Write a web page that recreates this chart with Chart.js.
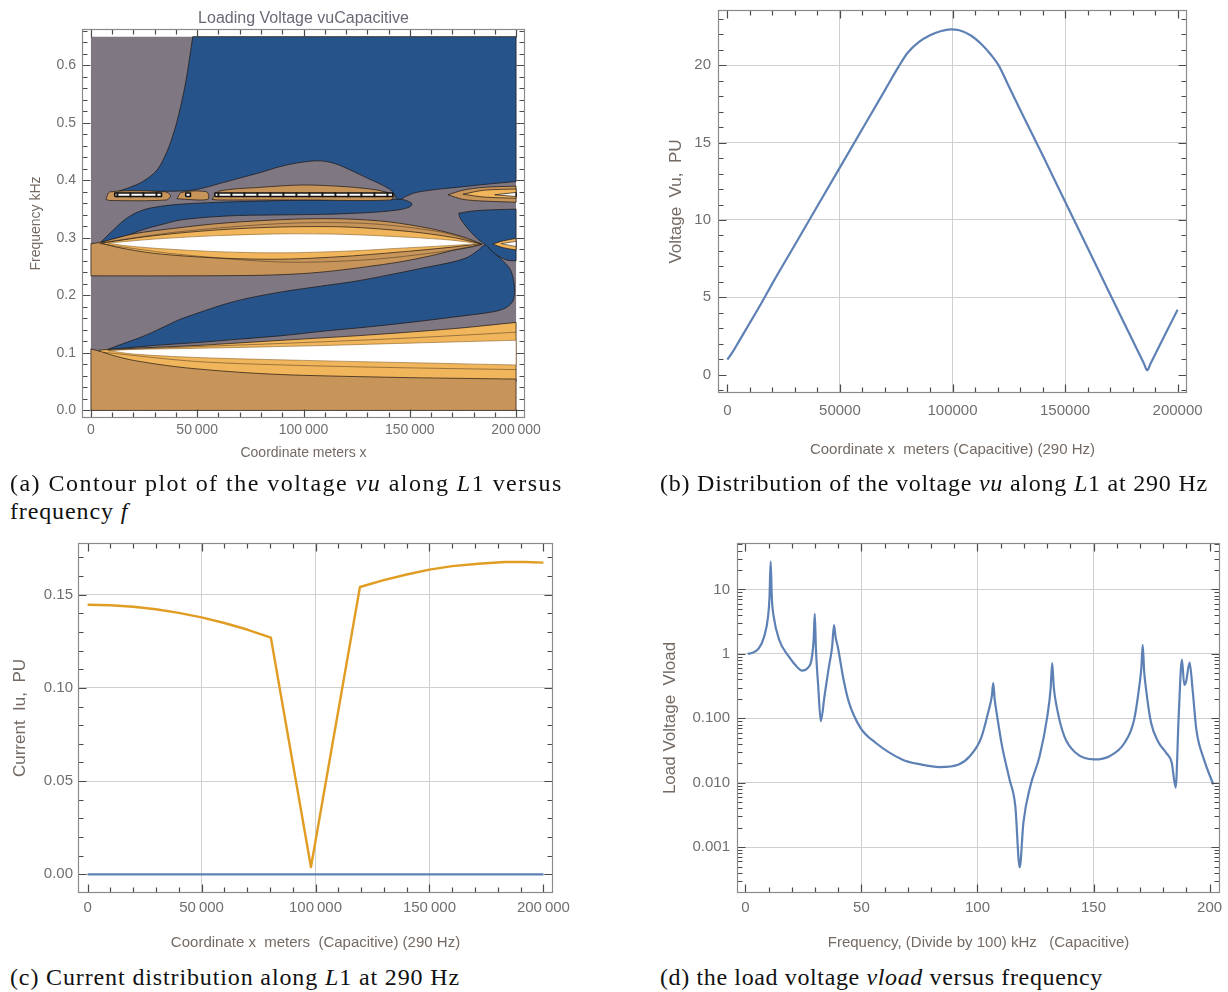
<!DOCTYPE html>
<html>
<head>
<meta charset="utf-8">
<script src="https://cdn.jsdelivr.net/npm/chart.js@4.4.1/dist/chart.umd.min.js"></script>
<style>
  html, body { margin: 0; padding: 0; background: #fff; }
  body { width: 1228px; height: 992px; position: relative; overflow: hidden; }
  canvas { position: absolute; }
  .cap { position: absolute; font-family: "Liberation Serif", "Times New Roman", serif; font-size: 24px;
         color: #111; white-space: nowrap; line-height: 28px; }
</style>
</head>
<body>
<canvas id="ca" width="560" height="470" style="left:0;top:0"></canvas>
<canvas id="cb" width="588" height="470" style="left:640px;top:0"></canvas>
<canvas id="cc" width="600" height="430" style="left:0;top:530px"></canvas>
<canvas id="cd" width="588" height="430" style="left:640px;top:530px"></canvas>

<div class="cap" data-w="553" style="left:10px;top:469px">(a) Contour plot of the voltage <i>vu</i> along <i>L</i>1 versus</div>
<div class="cap" id="capA2" style="left:10px;top:497px">frequency <i>f</i></div>
<div class="cap" data-w="548" style="left:660px;top:469px">(b) Distribution of the voltage <i>vu</i> along <i>L</i>1 at 290 Hz</div>
<div class="cap" id="capC" data-w="450" style="left:10px;top:963px">(c) Current distribution along <i>L</i>1 at 290 Hz</div>
<div class="cap" data-w="443" style="left:660px;top:963px">(d) the load voltage <i>vload</i> versus frequency</div>

<script>
// ---- (a) contour regions, [x m, f kHz] outlines ----
const contourGray = [[0, 0], [200000, 0], [200000, 0.65], [0, 0.65]];
const blueTop = [[47900, 0.65], [200000, 0.65], [200000, 0.398], [188000, 0.394], [175000, 0.389], [162000, 0.384],
  [153000, 0.379], [148000, 0.372], [145000, 0.366], [143500, 0.370], [141500, 0.382], [137000, 0.392], [130000, 0.404],
  [122000, 0.418], [115000, 0.429], [108000, 0.434], [100000, 0.432], [90000, 0.425], [80000, 0.414], [70000, 0.404],
  [60000, 0.394], [52000, 0.386], [45000, 0.382], [30000, 0.381], [18000, 0.381], [10900, 0.379], [17600, 0.387],
  [24400, 0.398], [31100, 0.418], [36100, 0.453], [40300, 0.5], [44500, 0.569]];
const blueMid = [[4200, 0.291], [10000, 0.312], [16000, 0.332], [22000, 0.345], [28000, 0.352], [40000, 0.358],
  [60000, 0.362], [80000, 0.364], [100000, 0.366], [120000, 0.366], [146000, 0.367], [151000, 0.360], [150000, 0.354],
  [145000, 0.349], [135000, 0.345], [125000, 0.343], [110000, 0.341], [90000, 0.340], [70000, 0.339], [55000, 0.336],
  [42000, 0.331], [33000, 0.323], [25000, 0.315], [16000, 0.303], [10000, 0.297]];
const blueRight = [[173000, 0.343], [180000, 0.347], [190000, 0.349], [200000, 0.350], [200000, 0.26], [195000, 0.262],
  [189000, 0.275], [185500, 0.288], [182000, 0.298], [178000, 0.313], [175000, 0.327], [173500, 0.336]];
const blueLower = [[7000, 0.105], [15000, 0.116], [24000, 0.128], [33000, 0.143], [41000, 0.157], [50000, 0.169],
  [58000, 0.179], [66000, 0.188], [75000, 0.196], [91000, 0.207], [108000, 0.216], [125000, 0.225], [142000, 0.237],
  [158000, 0.249], [170000, 0.258], [177000, 0.266], [182000, 0.278], [185500, 0.288], [188000, 0.279], [193000, 0.263],
  [197000, 0.247], [198800, 0.228], [199300, 0.208], [198500, 0.19], [195500, 0.179], [190000, 0.172], [170000, 0.162],
  [150000, 0.153], [130000, 0.145], [110000, 0.138], [90000, 0.130], [70000, 0.124], [50000, 0.118], [30000, 0.113],
  [15000, 0.108]];
const tanLens = [[0, 0.29], [4000, 0.292], [20000, 0.307], [40000, 0.317], [60000, 0.325], [80000, 0.330], [100000, 0.333],
  [120000, 0.333], [140000, 0.328], [160000, 0.316], [175000, 0.302], [184000, 0.289], [180000, 0.285], [170000, 0.278],
  [160000, 0.269], [145000, 0.258], [130000, 0.250], [115000, 0.243], [100000, 0.238], [80000, 0.235], [40000, 0.234],
  [0, 0.234]];
const orangeLens = [[5000, 0.291], [30000, 0.304], [60000, 0.314], [90000, 0.319], [120000, 0.319], [150000, 0.311],
  [170000, 0.301], [183000, 0.29], [170000, 0.284], [150000, 0.277], [120000, 0.268], [90000, 0.263], [60000, 0.265],
  [30000, 0.273], [12000, 0.284]];
const whiteLens = [[8000, 0.291], [30000, 0.298], [60000, 0.304], [90000, 0.307], [120000, 0.306], [150000, 0.301],
  [170000, 0.296], [182000, 0.29], [170000, 0.287], [150000, 0.283], [120000, 0.277], [90000, 0.274], [60000, 0.276],
  [30000, 0.282], [15000, 0.287]];
const orangeLensR = [[189000, 0.289], [194000, 0.295], [200000, 0.299], [200000, 0.279], [194000, 0.283]];
const whiteLensR = [[193000, 0.29], [200000, 0.294], [200000, 0.285]];
const orangeLow = [[4000, 0.105], [20000, 0.108], [50000, 0.113], [90000, 0.122], [130000, 0.131], [170000, 0.142],
  [200000, 0.153], [200000, 0.05], [4000, 0.05]];
const tanLow = [[0, 0], [200000, 0], [200000, 0.0545], [150000, 0.057], [100000, 0.061], [80000, 0.064], [60000, 0.069],
  [40000, 0.076], [20000, 0.087], [10000, 0.096], [5000, 0.102], [0, 0.107]];
const whiteLow = [[8000, 0.104], [20000, 0.106], [50000, 0.108], [100000, 0.112], [150000, 0.117], [200000, 0.122],
  [200000, 0.079], [150000, 0.083], [100000, 0.087], [50000, 0.092], [20000, 0.098]];
const stripeTanA = [[7000, 0.367], [9000, 0.380], [35000, 0.380], [37500, 0.373], [35500, 0.366], [9000, 0.365]];
const stripeTanB = [[40500, 0.368], [42500, 0.379], [54500, 0.380], [55000, 0.367]];
const stripeTanC = [[57000, 0.367], [60000, 0.381], [80000, 0.388], [100000, 0.392], [120000, 0.389], [135000, 0.383],
  [143000, 0.375], [141000, 0.366], [100000, 0.366], [60000, 0.366]];
const stripeTanD = [[168000, 0.375], [175000, 0.383], [185000, 0.388], [200000, 0.39], [200000, 0.362], [185000, 0.364],
  [175000, 0.367]];
const stripeOrangeD = [[175000, 0.376], [185000, 0.383], [200000, 0.385], [200000, 0.369], [185000, 0.371]];
const stripeWhiteA = [[11200, 0.372], [11200, 0.378], [33200, 0.378], [33200, 0.372]];
const stripeWhiteB = [[44600, 0.372], [44600, 0.378], [46800, 0.378], [46800, 0.372]];
const stripeWhiteC = [[58300, 0.372], [58300, 0.378], [142000, 0.378], [142000, 0.372]];
const stripeWhiteD = [[190000, 0.375], [200000, 0.379], [200000, 0.372]];
const stripeMarkA = [[12000, 0.375], [32600, 0.375]];
const stripeMarkC = [[59500, 0.375], [141500, 0.375]];
const contourLineLens1 = [[4000, 0.291], [40000, 0.310], [90000, 0.325], [130000, 0.325], [165000, 0.310], [184000, 0.289]];
const contourLineLens2 = [[4000, 0.290], [40000, 0.272], [90000, 0.258], [130000, 0.262], [165000, 0.276], [184000, 0.289]];
const contourLineLow1 = [[6000, 0.101], [50000, 0.085], [100000, 0.078], [150000, 0.074], [200000, 0.071]];
const contourLineLow2 = [[8000, 0.105], [50000, 0.111], [100000, 0.118], [150000, 0.126], [200000, 0.136]];

// ---- (b) voltage along the line at 290 Hz ----
const xB = [0, 2500, 5000, 10000, 15000, 20000, 30000, 40000, 50000, 60000, 70000, 76000, 80000, 85000, 90000, 95000,
  99000, 103000, 108000, 113000, 117000, 120500, 125000, 130000, 140000, 150000, 160000, 170000, 180000, 185000, 186500,
  188000, 190000, 195000, 200000];
const vuB = [0.97, 1.5, 2.12, 3.35, 4.6, 5.9, 8.4, 10.9, 13.4, 15.9, 18.4, 19.9, 20.8, 21.5, 21.95, 22.22,
  22.33, 22.27, 21.95, 21.35, 20.7, 20.0, 18.65, 17.15, 14.2, 11.2, 8.2, 5.2, 2.22, 0.73, 0.28,
  0.72, 1.3, 2.75, 4.2];

// ---- (c) current along the line at 290 Hz ----
const xC = [0, 10000, 20000, 30000, 40000, 50000, 60000, 70000, 80400, 98000, 119500, 129500, 140000, 150000, 160000,
  171500, 183000, 192000, 200000];
const iuC = [0.1446, 0.1443, 0.1435, 0.1422, 0.1402, 0.1378, 0.1348, 0.1313, 0.127, 0.0039, 0.1541, 0.1577, 0.1608,
  0.1634, 0.1653, 0.1666, 0.1675, 0.1675, 0.1672];
const xC0 = [0, 200000];
const iuC0 = [0, 0];

// ---- (d) load voltage vs frequency ----
const xD = [1, 2.4, 5.7, 8.1, 9.8, 10.4, 10.9, 11.4, 12.2, 14.6, 18.7, 22, 24.4, 26.8, 28.5, 29.4, 29.9, 30.4, 31.4,
  32.5, 34.1, 35.8, 37.4, 38.2, 38.9, 39.8, 42.3, 44.7, 49.6, 56.1, 67.5, 75.6, 83.7, 91.9, 96.7, 101.6, 104.9, 106.2,
  106.8, 107.4, 108.5, 110.6, 113.8, 116.3, 118.2, 119.8, 122.8, 126.8, 130.1, 131.5, 132.2, 132.9, 134.1, 137.4, 142.3,
  150.4, 156.9, 163.4, 167.5, 169.9, 170.6, 171.2, 171.8, 172.5, 174.8, 178.1, 181.3, 183.7, 185.4, 186.7, 188.1, 189.1,
  189.9, 191.4, 192.7, 194.3, 197.6, 201.6];
const vD = [1.0, 1.02, 1.2, 1.85, 3.8, 7.5, 27, 7.5, 3.8, 1.64, 0.91, 0.64, 0.55, 0.6, 0.81, 1.6, 4.16, 1.2, 0.31,
  0.09, 0.22, 0.57, 1.3, 2.8, 1.8, 1.3, 0.4, 0.173, 0.071, 0.0417, 0.023, 0.0192, 0.0175, 0.0192, 0.0258, 0.0497, 0.136, 0.22,
  0.35, 0.2, 0.107, 0.0369, 0.0113, 0.00435, 0.000485, 0.0024, 0.0089, 0.026, 0.107, 0.28, 0.72, 0.3, 0.153, 0.0527, 0.0291,
  0.023, 0.0258, 0.0417, 0.095, 0.35, 0.6, 1.38, 0.55, 0.31, 0.085, 0.0417, 0.0291, 0.0204, 0.0084, 0.107, 0.81, 0.33,
  0.37, 0.73, 0.277, 0.067, 0.023, 0.0094];

// ---- tick labels ----
const xTicksM = [0, 50000, 100000, 150000, 200000];
const yTicksA = [0, 0.1, 0.2, 0.3, 0.4, 0.5, 0.6];
const yTicksB = [0, 5, 10, 15, 20];
const yTicksC = [0, 0.05, 0.10, 0.15];
const xTicksD = [0, 50, 100, 150, 200];
const yTicksD = [0.001, 0.01, 0.1, 1, 10];
const yLabelsD = ['0.001', '0.010', '0.100', '1', '10'];

const FONT = "'Liberation Sans', Arial, sans-serif";
const TICK_C = '#6f6f6f';
const LABEL_C = '#746a63';
const GRID_C = '#cfcfcf';
const BLUE_LINE = '#5e81b5';
const ORANGE_LINE = '#e19c24';
const GRAY = '#7f7782', BLUE = '#25538a', TAN = '#c7955a', ORANGE = '#f1b55c', WHITE = '#ffffff';
const EDGE = 'rgba(30,22,15,0.7)';

const steps = (a, b, s) => { const r = []; for (let v = a; v <= b + s / 1e6; v += s) r.push(Math.round(v * 1e6) / 1e6); return r; };
const logMinor = []; for (let e = -4; e <= 1; e++) for (let k = 2; k <= 9; k++) logMinor.push(k * Math.pow(10, e));
const spaced = v => String(v).replace(/\B(?=(\d{3})+(?!\d))/g, '\u2009');

const fixX = h => s => { s.height = h; s.paddingLeft = 0; s.paddingRight = 0; };
const fixY = w => s => { s.width = w; s.paddingTop = 0; s.paddingBottom = 0; };
const setTicks = vals => s => { s.ticks = vals.map(v => ({ value: v })); };
const gridAt = vals => c => vals.includes(c.tick.value) ? GRID_C : 'rgba(0,0,0,0)';

// Mathematica-like frame with inward ticks on all four sides
const frame = t => ({
  id: 'frame' + Math.random().toString(36).slice(2, 7),
  afterDraw(chart) {
    const ctx = chart.ctx, a = chart.chartArea;
    const sx = chart.scales.x, sy = chart.scales.y;
    const L = Math.round(a.left) + 0.5, R = Math.round(a.right) - 0.5;
    const T = Math.round(a.top) + 0.5, B = Math.round(a.bottom) - 0.5;
    ctx.save();
    ctx.lineWidth = 1.2;
    ctx.strokeStyle = '#4a4a4a';
    ctx.beginPath();
    const mark = (sc, vals, len, hor) => {
      for (const v of vals) {
        const p = sc.getPixelForValue(v);
        if (!(p >= (hor ? L : T) && p <= (hor ? R : B))) continue;
        const q = Math.round(p) + 0.5;
        if (hor) {
          ctx.moveTo(q, B); ctx.lineTo(q, B - len);
          ctx.moveTo(q, T); ctx.lineTo(q, T + len);
        } else {
          ctx.moveTo(L, q); ctx.lineTo(L + len, q);
          ctx.moveTo(R, q); ctx.lineTo(R - len, q);
        }
      }
    };
    mark(sx, t.xMinor, 5, true); mark(sy, t.yMinor, 5, false);
    mark(sx, t.xMajor, 8, true); mark(sy, t.yMajor, 8, false);
    ctx.stroke();
    ctx.lineWidth = 1.2;
    ctx.strokeStyle = '#8a8a8a';
    ctx.strokeRect(L, T, R - L, B - T);
    ctx.restore();
  }
});

const common = {
  responsive: false, animation: false, events: [],
  elements: { point: { radius: 0 }, line: { borderJoinStyle: 'round' } }
};
const tickFont = s => ({ family: FONT, size: s });

// ---------- (a) contour ----------
function region(pts, smooth) {
  const out = [], n = pts.length;
  pts.forEach((p, i) => {
    out.push({ x: p[0], y: p[1] });
    if (!smooth) return;
    const a = pts[(i - 1 + n) % n], b = pts[(i + 1) % n];
    const v1 = [(a[0] - p[0]) / 200000, (a[1] - p[1]) / 0.65], v2 = [(b[0] - p[0]) / 200000, (b[1] - p[1]) / 0.65];
    const cos = (v1[0] * v2[0] + v1[1] * v2[1]) / (Math.hypot(v1[0], v1[1]) * Math.hypot(v2[0], v2[1]));
    const edge = p[0] === 0 || p[0] === 200000 || p[1] === 0 || p[1] === 0.65;
    if (edge || cos > 0.3) out.push({ x: p[0], y: p[1] });
  });
  out.push({ x: pts[0][0], y: pts[0][1] });
  return out;
}
const layersA = [
  [contourGray, GRAY, 'rgba(0,0,0,0)', 0, false],
  [blueTop, BLUE, EDGE, 1, true],
  [blueMid, BLUE, EDGE, 1, true],
  [blueRight, BLUE, EDGE, 1, true],
  [blueLower, BLUE, EDGE, 1, true],
  [tanLens, TAN, EDGE, 1, true],
  [orangeLens, ORANGE, EDGE, 1, true],
  [whiteLens, WHITE, 'rgba(140,100,40,0.6)', 1, true],
  [orangeLensR, ORANGE, EDGE, 1, true],
  [whiteLensR, WHITE, EDGE, 0.8, true],
  [orangeLow, ORANGE, EDGE, 1, true],
  [tanLow, TAN, EDGE, 1, true],
  [whiteLow, WHITE, 'rgba(140,100,40,0.6)', 1, true],
  [stripeTanA, TAN, EDGE, 1, true],
  [stripeTanB, TAN, EDGE, 1, true],
  [stripeTanC, TAN, EDGE, 1, true],
  [stripeTanD, TAN, EDGE, 1, true],
  [stripeOrangeD, ORANGE, EDGE, 1, true],
  [stripeWhiteA, WHITE, '#111', 1.6, false],
  [stripeWhiteB, WHITE, '#111', 1.6, false],
  [stripeWhiteC, WHITE, '#111', 1.6, false],
  [stripeWhiteD, WHITE, EDGE, 1, false]
];
const setsA = layersA.map(([pts, bg, edge, bw, smooth]) => ({
  data: region(pts, smooth), fill: 'shape', backgroundColor: bg, borderColor: edge, borderWidth: bw,
  tension: smooth ? 0.3 : 0, pointRadius: 0
}));
[contourLineLens1, contourLineLens2, contourLineLow1, contourLineLow2].forEach(l => setsA.push({
  data: l.map(([x, y]) => ({ x, y })), fill: false, borderColor: 'rgba(40,30,20,0.55)', borderWidth: 0.8,
  tension: 0.3, pointRadius: 0
}));
[stripeMarkA, stripeMarkC].forEach(l => setsA.push({
  data: l.map(([x, y]) => ({ x, y })), fill: false, borderColor: '#1a1a1a', borderWidth: 5,
  borderDash: [2, 11], tension: 0, pointRadius: 0
}));

new Chart(document.getElementById('ca'), {
  type: 'line',
  data: { datasets: setsA.reverse() },
  options: {
    ...common,
    layout: { padding: { top: 0, right: 35, bottom: 0, left: 0 } },
    plugins: {
      legend: { display: false }, tooltip: { enabled: false },
      title: { display: true, text: 'Loading Voltage vuCapacitive', fullSize: false, color: '#6c6876',
               font: { family: FONT, size: 16, weight: 'normal' }, padding: { top: 9, bottom: 0.8 } }
    },
    scales: {
      x: { type: 'linear', min: -4200, max: 204200, afterFit: fixX(52), afterBuildTicks: setTicks(xTicksM),
           grid: { display: false, drawTicks: false }, border: { display: false },
           ticks: { autoSkip: false, maxRotation: 0, padding: 4, color: TICK_C, font: tickFont(14), callback: v => spaced(v) },
           title: { display: true, text: 'Coordinate meters x', color: LABEL_C, font: tickFont(14), padding: { top: 0, bottom: 8.6 } } },
      y: { type: 'linear', min: -0.0132, max: 0.6633, afterFit: fixY(82), afterBuildTicks: setTicks(yTicksA),
           grid: { display: false, drawTicks: false }, border: { display: false },
           ticks: { padding: 6, color: TICK_C, font: tickFont(14), callback: v => v.toFixed(1) },
           title: { display: true, text: 'Frequency kHz', color: LABEL_C, font: tickFont(14), padding: { top: 27.3, bottom: 0 } } }
    }
  },
  plugins: [frame({ xMajor: xTicksM, xMinor: steps(0, 200000, 10000), yMajor: yTicksA, yMinor: steps(0, 0.66, 0.02) })]
});

// ---------- (b) ----------
new Chart(document.getElementById('cb'), {
  type: 'line',
  data: { datasets: [{ data: xB.map((x, i) => ({ x, y: vuB[i] })), borderColor: BLUE_LINE, borderWidth: 2.2,
                       cubicInterpolationMode: 'monotone', fill: false }] },
  options: {
    ...common,
    layout: { padding: { top: 10, right: 41, bottom: 0, left: 0 } },
    plugins: { legend: { display: false }, tooltip: { enabled: false } },
    scales: {
      x: { type: 'linear', min: -4175, max: 204175, afterFit: fixX(77), afterBuildTicks: setTicks(xTicksM),
           grid: { drawTicks: false, color: gridAt([50000, 100000, 150000]) }, border: { display: false },
           ticks: { autoSkip: false, maxRotation: 0, padding: 9, color: TICK_C, font: tickFont(15), callback: v => String(v) },
           title: { display: true, text: 'Coordinate x  meters (Capacitive) (290 Hz)', color: LABEL_C, font: tickFont(15),
                    padding: { top: 0, bottom: 11 } } },
      y: { type: 'linear', min: -1.19, max: 23.58, afterFit: fixY(78), afterBuildTicks: setTicks(yTicksB),
           grid: { drawTicks: false, color: gridAt([5, 10, 15, 20]) }, border: { display: false },
           ticks: { padding: 7, color: TICK_C, font: tickFont(15), callback: v => String(v) },
           title: { display: true, text: 'Voltage  Vu,  PU', color: LABEL_C, font: tickFont(17), padding: { top: 26.2, bottom: 0 } } }
    }
  },
  plugins: [frame({ xMajor: xTicksM, xMinor: steps(0, 200000, 10000), yMajor: yTicksB, yMinor: steps(-1, 23, 1) })]
});

// ---------- (c) ----------
new Chart(document.getElementById('cc'), {
  type: 'line',
  data: { datasets: [
    { data: xC.map((x, i) => ({ x, y: iuC[i] })), borderColor: ORANGE_LINE, borderWidth: 2.4, tension: 0, fill: false },
    { data: xC0.map((x, i) => ({ x, y: iuC0[i] })), borderColor: BLUE_LINE, borderWidth: 2.4, tension: 0, fill: false }
  ] },
  options: {
    ...common,
    layout: { padding: { top: 13, right: 47, bottom: 0, left: 0 } },
    plugins: { legend: { display: false }, tooltip: { enabled: false } },
    scales: {
      x: { type: 'linear', min: -4210, max: 204210, afterFit: fixX(67), afterBuildTicks: setTicks(xTicksM),
           grid: { drawTicks: false, color: gridAt([50000, 100000, 150000]) }, border: { display: false },
           ticks: { autoSkip: false, maxRotation: 0, padding: 6.3, color: TICK_C, font: tickFont(15), callback: v => spaced(v) },
           title: { display: true, text: 'Coordinate x  meters  (Capacitive) (290 Hz)', color: LABEL_C, font: tickFont(15),
                    padding: { top: 0, bottom: 7.7 } } },
      y: { type: 'linear', min: -0.0100, max: 0.1777, afterFit: fixY(78), afterBuildTicks: setTicks(yTicksC),
           grid: { drawTicks: false, color: gridAt([0, 0.05, 0.1, 0.15]) }, border: { display: false },
           ticks: { padding: 5, color: TICK_C, font: tickFont(15), callback: v => v.toFixed(2) },
           title: { display: true, text: 'Current  Iu,  PU', color: LABEL_C, font: tickFont(17), padding: { top: 9.7, bottom: 0 } } }
    }
  },
  plugins: [frame({ xMajor: xTicksM, xMinor: steps(0, 200000, 10000), yMajor: yTicksC, yMinor: steps(0, 0.17, 0.01) })]
});

// ---------- (d) ----------
new Chart(document.getElementById('cd'), {
  type: 'line',
  data: { datasets: [{ data: xD.map((x, i) => ({ x, y: vD[i] })), borderColor: BLUE_LINE, borderWidth: 2.2,
                       cubicInterpolationMode: 'monotone', fill: false }] },
  options: {
    ...common,
    layout: { padding: { top: 13, right: 8, bottom: 0, left: 0 } },
    plugins: { legend: { display: false }, tooltip: { enabled: false } },
    scales: {
      x: { type: 'linear', min: -3.6, max: 204.5, afterFit: fixX(67), afterBuildTicks: setTicks(xTicksD),
           grid: { drawTicks: false, color: gridAt([50, 100, 150]) }, border: { display: false },
           ticks: { autoSkip: false, maxRotation: 0, padding: 6.3, color: TICK_C, font: tickFont(15), callback: v => String(v) },
           title: { display: true, text: 'Frequency, (Divide by 100) kHz   (Capacitive)', color: LABEL_C, font: tickFont(15),
                    padding: { top: 0, bottom: 7.7 } } },
      y: { type: 'logarithmic', min: 0.000194, max: 52.5, afterFit: fixY(97), afterBuildTicks: setTicks(yTicksD),
           grid: { drawTicks: false, color: gridAt(yTicksD) }, border: { display: false },
           ticks: { autoSkip: false, padding: 7, color: TICK_C, font: tickFont(15), callback: (v, i) => yLabelsD[i] },
           title: { display: true, text: 'Load Voltage  Vload', color: LABEL_C, font: tickFont(17), padding: { top: 19.8, bottom: 0 } } }
    }
  },
  plugins: [frame({ xMajor: xTicksD, xMinor: steps(0, 200, 10), yMajor: yTicksD, yMinor: logMinor })]
});

// stretch the serif captions to the measured widths
let lsC = 0;
document.querySelectorAll('.cap[data-w]').forEach(el => {
  const w = el.getBoundingClientRect().width;
  const ls = (Number(el.dataset.w) - w) / el.textContent.length;
  el.style.letterSpacing = ls.toFixed(2) + 'px';
  if (el.id === 'capC') lsC = ls;
});
document.getElementById('capA2').style.letterSpacing = lsC.toFixed(2) + 'px';
</script>
</body>
</html>
